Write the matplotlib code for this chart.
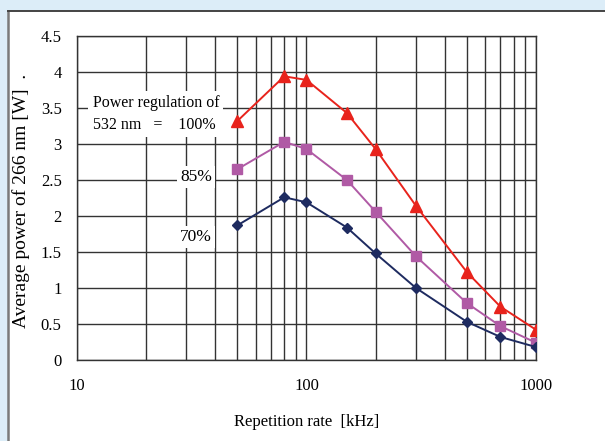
import matplotlib
matplotlib.use("Agg")
import matplotlib.pyplot as plt
from matplotlib.patches import Rectangle
from matplotlib.lines import Line2D
from matplotlib.ticker import FixedLocator, NullFormatter

plt.rcParams['font.family'] = ['Liberation Serif', 'DejaVu Serif']

rate_khz = [50, 80, 100, 150, 200, 300, 500, 700, 1000]
power_100 = [3.32, 3.94, 3.89, 3.43, 2.93, 2.14, 1.22, 0.74, 0.42]
power_85 = [2.65, 3.03, 2.93, 2.50, 2.06, 1.44, 0.79, 0.47, 0.24]
power_70 = [1.87, 2.26, 2.19, 1.84, 1.48, 1.00, 0.53, 0.32, 0.18]

y_ticks = [0, 0.5, 1, 1.5, 2, 2.5, 3, 3.5, 4, 4.5]
y_tick_labels = ['0', '0.5', '1', '1.5', '2', '2.5', '3', '3.5', '4', '4.5']
x_major = [10, 100, 1000]
x_major_labels = ['10', '100', '1000']
x_minor = [20, 30, 40, 50, 60, 70, 80, 90, 200, 300, 400, 500, 600, 700, 800, 900]

W, H = 605, 441
fig = plt.figure(figsize=(W / 100, H / 100), dpi=100)
fig.patch.set_facecolor('#dcedf8')

# white panel with border
fig.patches.append(Rectangle((8 / W, 0), 1, 1 - 11 / H, transform=fig.transFigure,
                             facecolor='white', edgecolor='none', zorder=-10))
fig.lines.append(Line2D([8 / W, 8 / W], [0, 1 - 10.5 / H], transform=fig.transFigure,
                        color='#7a7a7a', lw=1.8, zorder=-9))
fig.lines.append(Line2D([7.5 / W, 1], [1 - 10.5 / H, 1 - 10.5 / H], transform=fig.transFigure,
                        color='#444444', lw=1.4, zorder=-9))

ax = fig.add_axes([77 / W, 1 - 360 / H, (536 - 77) / W, (360 - 36) / H])
ax.set_facecolor('white')
ax.set_xscale('log')
ax.set_xlim(10, 1000)
ax.set_ylim(0, 4.5)

ax.xaxis.set_major_locator(FixedLocator(x_major))
ax.xaxis.set_minor_locator(FixedLocator(x_minor))
ax.xaxis.set_minor_formatter(NullFormatter())
ax.set_xticks(x_major)
ax.set_xticklabels(x_major_labels)
ax.set_yticks(y_ticks)
ax.set_yticklabels(y_tick_labels)

ax.grid(True, which='both', axis='x', color='#333333', lw=1.0)
ax.grid(True, which='major', axis='y', color='#333333', lw=1.0)
ax.set_axisbelow(True)
for s in ax.spines.values():
    s.set_color('#333333')
    s.set_linewidth(1.0)

ax.tick_params(axis='both', which='both', length=0, labelsize=12)
ax.tick_params(axis='x', pad=13)
ax.tick_params(axis='y', pad=11)

ax.plot(rate_khz, power_100, color='#e8231c', lw=1.4, marker='^', ms=8, zorder=5)
ax.plot(rate_khz, power_85, color='#b05aa5', lw=1.4, marker='s', ms=7, zorder=5)
ax.plot(rate_khz, power_70, color='#1e2b60', lw=1.4, marker='D', ms=5.5, zorder=5)

box = dict(facecolor='white', edgecolor='none', pad=2)
ax.text(11.7, 3.42, 'Power regulation of\n532 nm   =    100%', fontsize=11.5,
        ha='left', va='center', linespacing=1.5,
        bbox=dict(facecolor='white', edgecolor='none', pad=3), zorder=4)
ax.text(33.0, 2.54, '85%', fontsize=12.5, ha='center', va='center', bbox=box, zorder=4)
ax.text(33.0, 1.71, '70%', fontsize=12.5, ha='center', va='center', bbox=box, zorder=4)

ax.set_xlabel('Repetition rate  [kHz]', fontsize=12, labelpad=14)
ax.set_ylabel('Average power of 266 nm [W]  .', fontsize=14)
ax.yaxis.set_label_coords(-0.102, 0.49)

fig.savefig('out.png', dpi=100, facecolor=fig.get_facecolor())
